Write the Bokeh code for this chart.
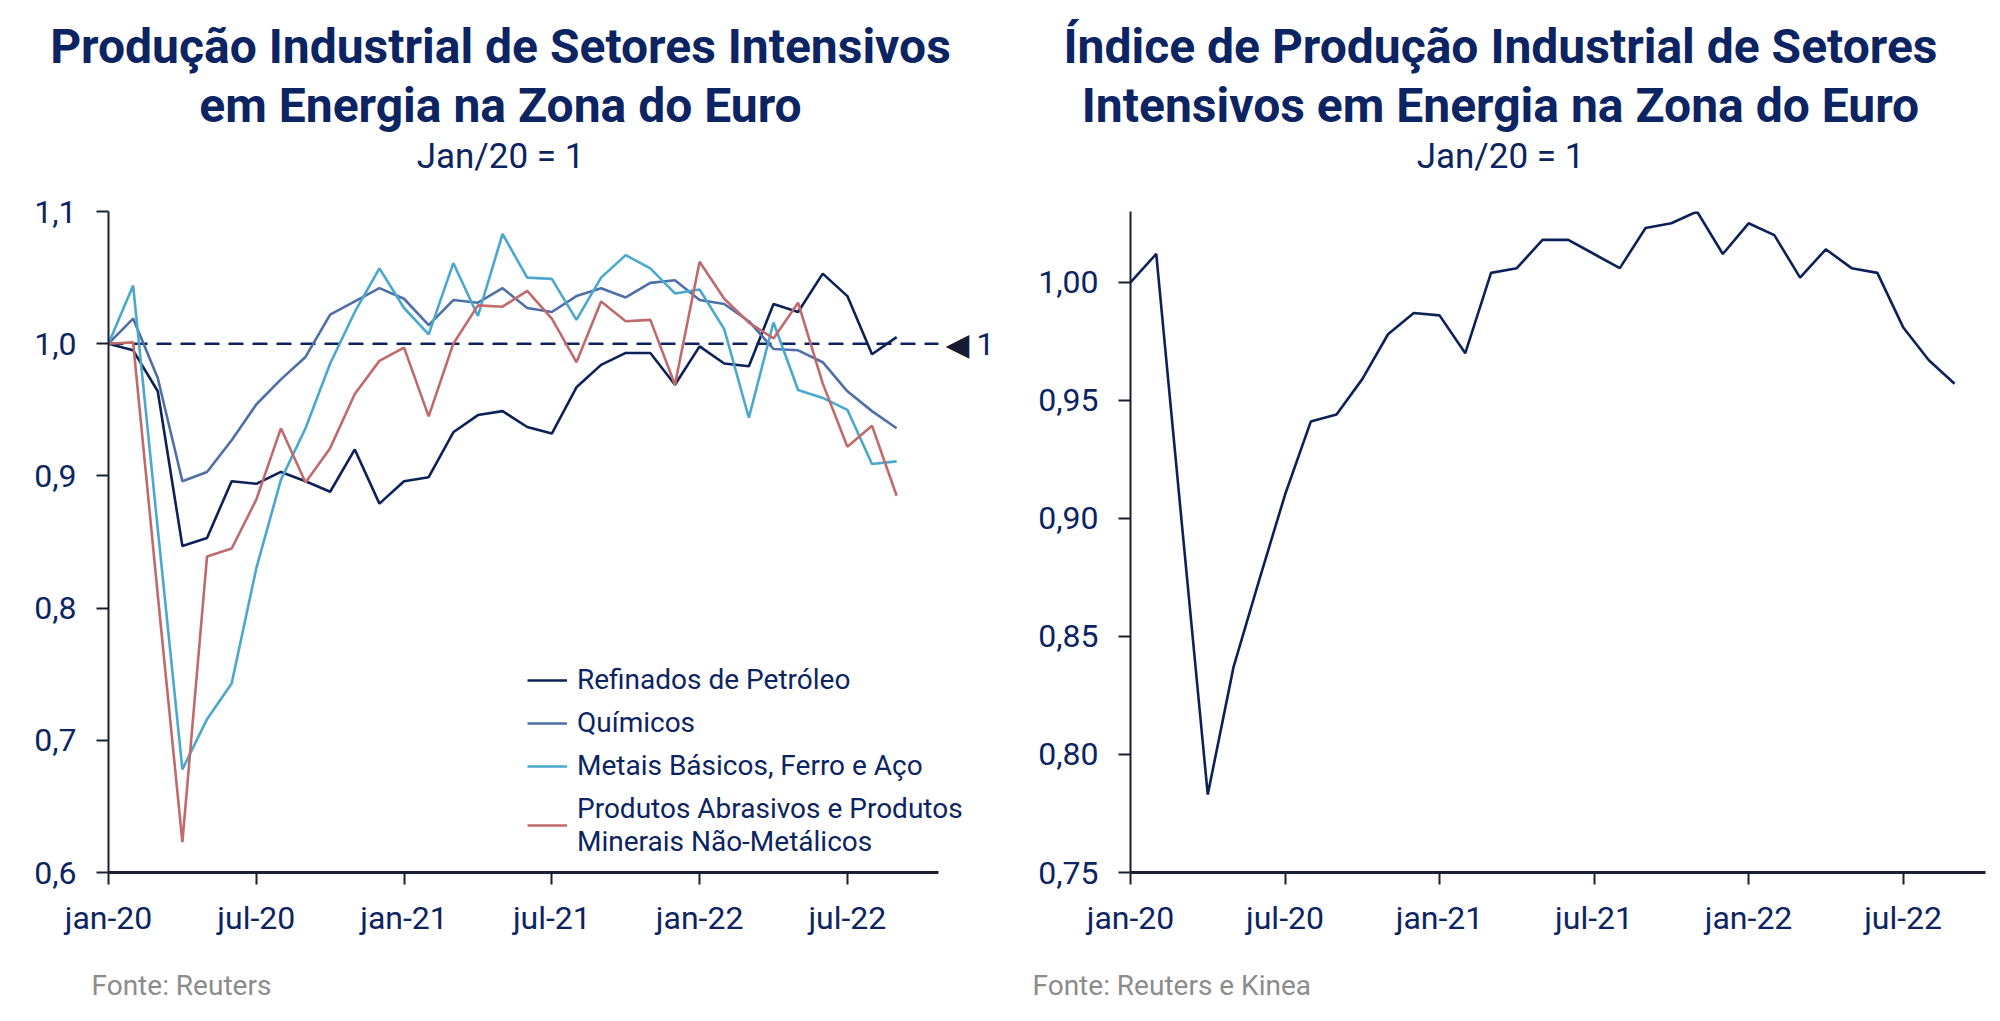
from bokeh.plotting import figure
from bokeh.models import FixedTicker, Label, Legend, LegendItem, Range1d
from bokeh.layouts import row, column
from bokeh.embed import file_html
from bokeh.resources import INLINE

# ---------------- data ----------------
months = ["jan-20", "fev-20", "mar-20", "abr-20", "mai-20", "jun-20", "jul-20", "ago-20", "set-20",
          "out-20", "nov-20", "dez-20", "jan-21", "fev-21", "mar-21", "abr-21", "mai-21", "jun-21",
          "jul-21", "ago-21", "set-21", "out-21", "nov-21", "dez-21", "jan-22", "fev-22", "mar-22",
          "abr-22", "mai-22", "jun-22", "jul-22", "ago-22", "set-22"]

refinados = [1.000, 0.995, 0.964, 0.847, 0.853, 0.896, 0.894, 0.903, 0.896, 0.888, 0.920, 0.879,
             0.896, 0.899, 0.933, 0.946, 0.949, 0.937, 0.932, 0.967, 0.984, 0.993, 0.993, 0.969,
             0.998, 0.985, 0.983, 1.030, 1.024, 1.053, 1.036, 0.992, 1.005]
quimicos = [1.000, 1.019, 0.974, 0.896, 0.903, 0.927, 0.954, 0.973, 0.990, 1.022, 1.032, 1.042,
            1.034, 1.014, 1.033, 1.031, 1.042, 1.027, 1.024, 1.036, 1.042, 1.035, 1.046, 1.048,
            1.033, 1.030, 1.017, 0.996, 0.995, 0.986, 0.964, 0.949, 0.936]
metais = [1.000, 1.044, 0.860, 0.678, 0.716, 0.743, 0.830, 0.897, 0.936, 0.985, 1.024, 1.057,
          1.027, 1.007, 1.061, 1.021, 1.083, 1.050, 1.049, 1.018, 1.050, 1.067, 1.057, 1.038,
          1.041, 1.011, 0.944, 1.016, 0.965, 0.959, 0.950, 0.909, 0.911]
produtos = [1.000, 1.001, 0.810, 0.623, 0.839, 0.845, 0.882, 0.936, 0.895, 0.921, 0.962, 0.987,
            0.997, 0.945, 1.000, 1.029, 1.028, 1.040, 1.019, 0.986, 1.032, 1.017, 1.018, 0.969,
            1.062, 1.034, 1.016, 1.004, 1.031, 0.970, 0.922, 0.938, 0.885]
indice = [1.000, 1.012, 0.897, 0.783, 0.837, 0.874, 0.910, 0.941, 0.944, 0.959, 0.978, 0.987,
          0.986, 0.970, 1.004, 1.006, 1.018, 1.018, 1.012, 1.006, 1.023, 1.025, 1.030, 1.012,
          1.025, 1.020, 1.002, 1.014, 1.006, 1.004, 0.981, 0.967, 0.957]

series_names = ["Refinados de Petróleo", "Químicos", "Metais Básicos, Ferro e Aço",
                "Produtos Abrasivos e Produtos\nMinerais Não-Metálicos"]
x_tick_labels = ["jan-20", "jul-20", "jan-21", "jul-21", "jan-22", "jul-22"]
left_y_ticks = [0.6, 0.7, 0.8, 0.9, 1.0, 1.1]
left_y_labels = ["0,6", "0,7", "0,8", "0,9", "1,0", "1,1"]
right_y_ticks = [0.75, 0.80, 0.85, 0.90, 0.95, 1.00]
right_y_labels = ["0,75", "0,80", "0,85", "0,90", "0,95", "1,00"]
reference_level = 1.0
reference_marker = "◀"
reference_text = "1"

left_title = ["Produção Industrial de Setores Intensivos", "em Energia na Zona do Euro"]
right_title = ["Índice de Produção Industrial de Setores", "Intensivos em Energia na Zona do Euro"]
subtitle = "Jan/20 = 1"
left_source = "Fonte: Reuters"
right_source = "Fonte: Reuters e Kinea"

# ---------------- styles ----------------
NAVY = "#0c2461"
AXIS = "#1a1f33"
GREY = "#8c8c8c"
COLORS = ["#0b2158", "#4e6fa8", "#4aa8cf", "#c06a6b"]
FONT = "Roboto"
TICK_SIZE = "32px"

x = list(range(len(months)))
x_ticks = [months.index(m) for m in x_tick_labels]

LEFT_AXIS_END = 33.7          # x-axis of the left chart ends here (months)
LEFT_AXIS_PX = 830            # pixel length of that axis
LEFT_FRAME_PX = 892           # frame is wider, so the legend / marker are not clipped


def blank_fig(w, h):
    f = figure(width=w, height=h, output_backend="svg", toolbar_location=None,
               x_axis_location=None, y_axis_location=None, min_border=0,
               x_range=Range1d(0, 1), y_range=Range1d(0, 1), frame_align=False)
    f.outline_line_color = None
    f.xgrid.visible = False
    f.ygrid.visible = False
    return f


def header(lines, cx):
    f = blank_fig(1000, 190)
    for txt, yy, bold, size in [(lines[0], 144, True, "48px"), (lines[1], 85, True, "48px"),
                                (subtitle, 34, False, "35px")]:
        f.add_layout(Label(x=cx, y=yy, x_units="screen", y_units="screen", text=txt,
                           text_align="center", text_baseline="alphabetic",
                           text_font=FONT, text_font_size=size,
                           text_font_style="bold" if bold else "normal",
                           text_color=NAVY))
    return f


def footer(txt, fx):
    f = blank_fig(1000, 61)
    f.add_layout(Label(x=fx, y=36, x_units="screen", y_units="screen", text=txt,
                       text_font=FONT, text_font_size="28px", text_color=GREY,
                       text_baseline="alphabetic"))
    return f


def style(p, yticks, ylabels):
    p.outline_line_color = None
    p.xgrid.visible = False
    p.ygrid.visible = False
    for ax in (p.xaxis[0], p.yaxis[0]):
        ax.axis_line_color = AXIS
        ax.major_tick_line_color = AXIS
        ax.major_tick_in = 0
        ax.major_tick_out = 12
        ax.minor_tick_line_color = None
        ax.major_label_text_color = NAVY
        ax.major_label_text_font = FONT
        ax.major_label_text_font_size = TICK_SIZE
    p.xaxis[0].axis_line_width = 3
    p.xaxis[0].major_tick_line_width = 2
    p.yaxis[0].axis_line_width = 2
    p.yaxis[0].major_tick_line_width = 2
    p.xaxis[0].major_label_standoff = 14
    p.yaxis[0].major_label_standoff = 20
    p.xaxis[0].ticker = FixedTicker(ticks=x_ticks)
    p.xaxis[0].major_label_overrides = {t: l for t, l in zip(x_ticks, x_tick_labels)}
    p.yaxis[0].ticker = FixedTicker(ticks=yticks)
    p.yaxis[0].major_label_overrides = {t: l for t, l in zip(yticks, ylabels)}


# ---------------- left chart ----------------
p1 = figure(width=1000, height=770, output_backend="svg", toolbar_location=None,
            x_range=Range1d(0, LEFT_AXIS_END * LEFT_FRAME_PX / LEFT_AXIS_PX),
            y_range=Range1d(0.6, 1.1),
            min_border_left=108, min_border_right=0, min_border_top=21, min_border_bottom=88)
style(p1, left_y_ticks, left_y_labels)
p1.xaxis[0].bounds = (0, LEFT_AXIS_END)

# dashed reference line at 1, over the axis length
p1.line([0, LEFT_AXIS_END], [reference_level, reference_level], line_color=NAVY,
        line_width=2.5, line_dash="15 9")

renderers = []
for ys, c in zip([refinados, quimicos, metais, produtos], COLORS):
    r = p1.line(x, ys, line_color=c, line_width=2.6)
    renderers.append(r)

legend = Legend(items=[LegendItem(label=n, renderers=[r]) for n, r in zip(series_names, renderers)],
                location=(419, 14), padding=0, margin=0, spacing=10,
                glyph_width=40, glyph_height=22, label_standoff=10,
                label_text_font=FONT, label_text_font_size="28px", label_text_color=NAVY,
                background_fill_alpha=0, border_line_color=None, label_text_line_height=1.3)
p1.add_layout(legend)

p1.add_layout(Label(x=LEFT_AXIS_END, y=reference_level, x_offset=7, text=reference_marker,
                    text_baseline="middle", text_align="left", text_font="DejaVu Sans",
                    text_font_size="31px", text_color="#141b33"))
p1.add_layout(Label(x=LEFT_AXIS_END, y=reference_level, x_offset=38, text=reference_text,
                    text_baseline="middle", text_align="left", text_font=FONT,
                    text_font_size=TICK_SIZE, text_color=NAVY))

# ---------------- right chart ----------------
p2 = figure(width=1000, height=770, output_backend="svg", toolbar_location=None,
            x_range=Range1d(0, 33.2), y_range=Range1d(0.75, max(indice)),
            min_border_left=130, min_border_right=15, min_border_top=21, min_border_bottom=88)
style(p2, right_y_ticks, right_y_labels)
p2.line(x, indice, line_color=COLORS[0], line_width=2.6)

layout = row(
    column(header(left_title, 500), p1, footer(left_source, 91), spacing=0),
    column(header(right_title, 500), p2, footer(right_source, 32), spacing=0),
    spacing=0)
open("out.html", "w").write(file_html(layout, INLINE))
